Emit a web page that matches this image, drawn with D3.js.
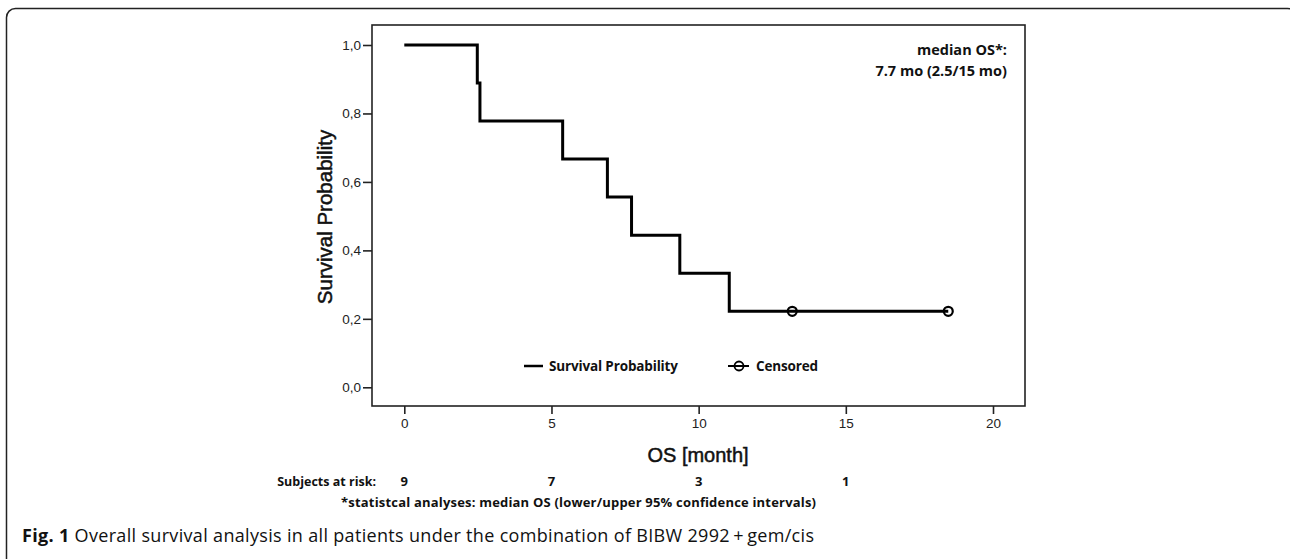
<!DOCTYPE html>
<html>
<head>
<meta charset="utf-8">
<script src="https://cdn.jsdelivr.net/npm/d3@7"></script>
<style>
  html, body { margin: 0; padding: 0; background: #fff; }
  svg { display: block; }
</style>
</head>
<body>
<div id="chart"></div>
<script>
// Kaplan-Meier steps
const stepTimes = [0, 2.48, 2.57, 5.38, 6.90, 7.72, 9.36, 11.04, 18.48];
const survival = [1.0, 0.889, 0.778, 0.667, 0.556, 0.444, 0.333, 0.222, 0.222];
const censorTimes = [13.18, 18.48];
const censorSurv = [0.222, 0.222];

const xTicks = [0, 5, 10, 15, 20];
const yTicks = [0, 0.2, 0.4, 0.6, 0.8, 1.0];

const riskTimes = [0, 5, 10, 15];
const riskCounts = [9, 7, 3, 1];

const medianLines = ['median OS*:', '7.7 mo (2.5/15 mo)'];
const legendLabels = ['Survival Probability', 'Censored'];

const WIDTH = 1290;
const HEIGHT = 559;
const FRAME = { left: 372, top: 25, right: 1025, bottom: 406 };
const ARIAL = 'Arial, "Liberation Sans", sans-serif';
const CAL = '"Open Sans", "Noto Sans", sans-serif';

const svg = d3
  .select('#chart')
  .append('svg')
  .attr('width', WIDTH)
  .attr('height', HEIGHT);

// outer rounded box of the figure
svg
  .append('rect')
  .attr('x', 6.5)
  .attr('y', 8.5)
  .attr('width', 1290)
  .attr('height', 560)
  .attr('rx', 9)
  .attr('fill', 'none')
  .attr('stroke', '#222')
  .attr('stroke-width', 1.5);

const x = d3.scaleLinear().domain([0, 20]).range([404.3, 993]);
const y = d3.scaleLinear().domain([0, 1]).range([387.3, 45]);

const commaFmt = d3.formatLocale({ decimal: ',', thousands: '.', grouping: [3], currency: ['', ''] }).format('.1f');

// plot frame
svg
  .append('rect')
  .attr('x', FRAME.left)
  .attr('y', FRAME.top)
  .attr('width', FRAME.right - FRAME.left)
  .attr('height', FRAME.bottom - FRAME.top)
  .attr('fill', 'none')
  .attr('stroke', '#222')
  .attr('stroke-width', 1.6);

// y axis
const yAxis = svg
  .append('g')
  .attr('transform', `translate(${FRAME.left},0)`)
  .call(d3.axisLeft(y).tickValues(yTicks).tickFormat(commaFmt).tickSize(9).tickPadding(2));
yAxis.select('.domain').remove();
yAxis.selectAll('line').attr('stroke', '#222').attr('stroke-width', 1.6);
yAxis.selectAll('text').attr('font-family', ARIAL).attr('font-size', 13.5).attr('fill', '#222');

// x axis
const xAxis = svg
  .append('g')
  .attr('transform', `translate(0,${FRAME.bottom})`)
  .call(d3.axisBottom(x).tickValues(xTicks).tickSize(8).tickPadding(4));
xAxis.select('.domain').remove();
xAxis.selectAll('line').attr('stroke', '#222').attr('stroke-width', 1.6);
xAxis.selectAll('text').attr('font-family', ARIAL).attr('font-size', 13.5).attr('fill', '#222');

// axis titles
svg
  .append('text')
  .attr('transform', `translate(332,217) rotate(-90)`)
  .attr('text-anchor', 'middle')
  .attr('font-family', ARIAL)
  .attr('font-size', 20.5)
  .attr('fill', '#111')
  .attr('stroke', '#111')
  .attr('stroke-width', 0.5)
  .text('Survival Probability');

svg
  .append('text')
  .attr('x', 698)
  .attr('y', 462)
  .attr('text-anchor', 'middle')
  .attr('font-family', ARIAL)
  .attr('font-size', 20)
  .attr('fill', '#111')
  .attr('stroke', '#111')
  .attr('stroke-width', 0.5)
  .text('OS [month]');

// survival curve
const kmData = stepTimes.map((t, i) => ({ t: t, s: survival[i] }));
const line = d3
  .line()
  .curve(d3.curveStepAfter)
  .x((d) => x(d.t))
  .y((d) => y(d.s));

svg
  .append('path')
  .datum(kmData)
  .attr('d', line)
  .attr('fill', 'none')
  .attr('stroke', '#000')
  .attr('stroke-width', 3);

// censored marks
svg
  .append('g')
  .selectAll('circle')
  .data(censorTimes.map((t, i) => ({ t: t, s: censorSurv[i] })))
  .enter()
  .append('circle')
  .attr('cx', (d) => x(d.t))
  .attr('cy', (d) => y(d.s))
  .attr('r', 4.5)
  .attr('fill', 'none')
  .attr('stroke', '#000')
  .attr('stroke-width', 2.2);

// legend
const legY = 366;
svg
  .append('line')
  .attr('x1', 524)
  .attr('x2', 543)
  .attr('y1', legY)
  .attr('y2', legY)
  .attr('stroke', '#000')
  .attr('stroke-width', 2.5);
svg
  .append('text')
  .attr('x', 549)
  .attr('y', legY + 5)
  .attr('font-family', CAL)
  .attr('font-weight', 700)
  .attr('font-size', 13.5)
  .attr('textLength', 129)
  .attr('fill', '#111')
  .text(legendLabels[0]);

svg
  .append('line')
  .attr('x1', 728)
  .attr('x2', 749)
  .attr('y1', legY)
  .attr('y2', legY)
  .attr('stroke', '#000')
  .attr('stroke-width', 2);
svg
  .append('circle')
  .attr('cx', 739)
  .attr('cy', legY)
  .attr('r', 4.5)
  .attr('fill', 'none')
  .attr('stroke', '#000')
  .attr('stroke-width', 1.8);
svg
  .append('text')
  .attr('x', 756)
  .attr('y', legY + 5)
  .attr('font-family', CAL)
  .attr('font-weight', 700)
  .attr('font-size', 13.5)
  .attr('textLength', 62)
  .attr('fill', '#111')
  .text(legendLabels[1]);

// median annotation
svg
  .append('g')
  .selectAll('text')
  .data(medianLines)
  .enter()
  .append('text')
  .attr('x', 1007)
  .attr('y', (d, i) => 55 + i * 21)
  .attr('text-anchor', 'end')
  .attr('font-family', CAL)
  .attr('font-weight', 700)
  .attr('font-size', 14.5)
  .attr('fill', '#111')
  .text((d) => d);

// subjects at risk
svg
  .append('text')
  .attr('x', 376)
  .attr('y', 486)
  .attr('text-anchor', 'end')
  .attr('font-family', CAL)
  .attr('font-weight', 700)
  .attr('font-size', 12.5)
  .attr('fill', '#111')
  .text('Subjects at risk:');

svg
  .append('g')
  .selectAll('text')
  .data(riskTimes.map((t, i) => ({ t: t, n: riskCounts[i] })))
  .enter()
  .append('text')
  .attr('x', (d) => x(d.t))
  .attr('y', 486)
  .attr('text-anchor', 'middle')
  .attr('font-family', CAL)
  .attr('font-weight', 700)
  .attr('font-size', 13)
  .attr('fill', '#111')
  .text((d) => d.n);

// footnote
svg
  .append('text')
  .attr('x', 341)
  .attr('y', 507)
  .attr('font-family', CAL)
  .attr('font-weight', 700)
  .attr('font-size', 13)
  .attr('textLength', 475)
  .attr('fill', '#111')
  .text('*statistcal analyses: median OS (lower/upper 95% confidence intervals)');

// caption
const caption = svg
  .append('text')
  .attr('x', 22)
  .attr('y', 542)
  .attr('font-family', CAL)
  .attr('font-size', 18)
  .attr('textLength', 792)
  .attr('fill', '#111');
caption.append('tspan').attr('font-weight', 700).text('Fig. 1');
caption.append('tspan').attr('font-weight', 400).text(' Overall survival analysis in all patients under the combination of BIBW 2992\u2009+\u2009gem/cis');
</script>
</body>
</html>
